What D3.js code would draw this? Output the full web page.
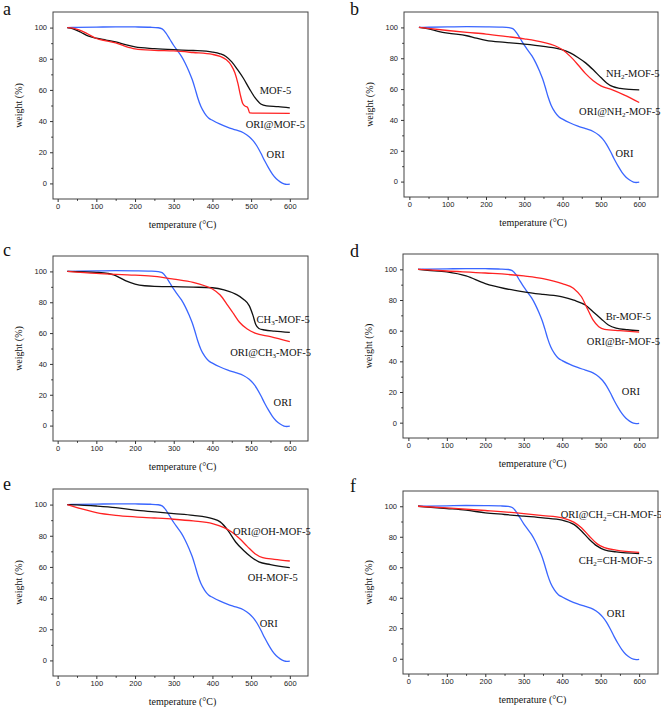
<!DOCTYPE html>
<html>
<head>
<meta charset="utf-8">
<script src="https://cdn.jsdelivr.net/npm/d3@7"></script>
<style>
  html, body { margin: 0; padding: 0; background: #fff; }
  svg { display: block; }
</style>
</head>
<body>
<svg id="chart" width="661" height="709"></svg>
<script>
// ---------------- DATA (temperature °C, weight %) ----------------
const xTicks = [0, 100, 200, 300, 400, 500, 600];
const yTicks = [0, 20, 40, 60, 80, 100];
const xLabel = "temperature (°C)";
const yLabel = "weight (%)";

const ORI = [[25,100],[50,100.1],[100,100.3],[150,100.5],[200,100.4],[240,100.2],[260,99.9],[270,99.2],[280,96.5],[290,92.5],[300,88.5],[310,85],[320,81.5],[330,77],[340,71.5],[348,66.5],[355,61],[362,55],[370,49.5],[380,45],[390,42],[400,40.5],[420,38],[440,36],[460,34.3],[480,32.5],[495,30],[505,27.5],[515,24],[525,19.5],[535,14.5],[545,10],[555,6],[565,3],[575,1],[585,-0.3],[592,-0.6],[600,-0.4]];

const MOF5 = [[25,100],[40,99.2],[60,97],[80,94.5],[100,93.2],[125,92],[150,90.8],[175,89],[200,87.6],[250,86.5],[300,85.8],[350,85.3],[400,84.3],[420,83.2],[435,81.5],[450,78],[465,73],[480,67.5],[495,61],[510,55],[525,51],[540,49.8],[570,49.3],[600,48.5]];
const ORI_MOF5 = [[25,100],[40,99.6],[55,98.5],[75,96.3],[100,93],[125,91.5],[150,90.2],[175,88],[200,86.4],[250,85.4],[300,85],[350,84],[400,82.8],[420,81.5],[435,79.5],[448,76],[458,71],[466,64],[472,57],[478,51.5],[485,49.5],[490,49],[493,47.5],[496,45.3],[520,45.1],[600,45]];

const NH2_MOF5 = [[25,100],[50,99],[75,97.5],[100,96.3],[150,94.6],[175,93],[200,91.6],[250,90.3],[300,89.2],[350,87.7],[400,85.5],[420,83.5],[440,80.5],[460,77],[480,72.5],[500,67.5],[515,64],[530,61.7],[550,60.5],[575,59.8],[600,59.5]];
const ORI_NH2_MOF5 = [[25,100],[100,98],[150,96.8],[200,95.7],[250,94.2],[300,92.6],[350,90.3],[380,88.1],[400,85.5],[420,81.2],[440,75.8],[460,70],[480,65.4],[500,62.1],[530,59.5],[560,56.3],[600,51.3]];

const CH3_MOF5 = [[25,100],[100,99.4],[130,98.7],[145,97.8],[160,96],[175,94],[200,91.8],[225,90.7],[250,90.3],[300,90.1],[350,89.8],[400,89.4],[430,88.1],[460,85.3],[480,82],[495,77.8],[505,71.3],[512,65.5],[520,63],[535,62],[560,61.3],[600,60.5]];
const ORI_CH3_MOF5 = [[25,100],[100,98.7],[200,97.6],[250,96.8],[300,95],[350,92.9],[380,90.7],[400,88.6],[420,84.7],[440,77.8],[455,72.4],[470,67],[490,62.6],[510,60],[550,57.7],[600,54.4]];

const BR_MOF5 = [[25,100],[50,99.4],[100,98.3],[150,95.7],[200,90.7],[250,87.5],[300,85.3],[350,83.6],[400,82.1],[430,79.9],[460,76.7],[480,72.4],[500,68],[520,63.7],[540,61.6],[570,60.6],[600,60]];
const ORI_BR_MOF5 = [[25,100],[100,98.9],[200,97.6],[300,95.7],[350,94],[400,90.7],[430,87.5],[450,82.1],[465,74.5],[480,67],[495,62.6],[510,60.9],[550,60],[600,59]];

const OH_MOF5 = [[25,100],[100,99.1],[150,98.1],[200,96.4],[250,95.3],[300,94.2],[350,93.1],[400,91],[420,88.9],[440,83.5],[460,76],[480,70.7],[500,66.4],[520,63.2],[550,61.5],[600,59.5]];
const ORI_OH_MOF5 = [[25,100],[50,98.1],[75,96.4],[100,94.9],[150,93.1],[200,92.1],[250,91.4],[300,90.6],[350,89.5],[400,87.8],[430,85.2],[450,82.4],[470,78.2],[490,73.2],[510,68.5],[530,66],[560,64.9],[600,63.8]];

const VINYL_MOF5 = [[25,100],[100,98.5],[150,97.4],[200,95.7],[250,94.6],[300,93.5],[350,92.4],[400,90.9],[430,88.1],[450,83.8],[470,78.4],[490,74],[510,71.4],[540,70.1],[600,69]];
const ORI_VINYL_MOF5 = [[25,100],[100,98.9],[200,97.2],[300,95.2],[350,93.9],[400,92.4],[430,89.6],[450,85.9],[470,80.5],[490,75.5],[510,72.9],[540,71.2],[600,69.7]];

// series label text ("_2" marks a subscript) and anchor point in data units [°C, %]
const panelLetters = ["a", "b", "c", "d", "e", "f"];
const mofNames = ["MOF-5", "NH_2-MOF-5", "CH_3-MOF-5", "Br-MOF-5", "OH-MOF-5", "CH_2=CH-MOF-5"];
const oriMofNames = ["ORI@MOF-5", "ORI@NH_2-MOF-5", "ORI@CH_3-MOF-5", "ORI@Br-MOF-5", "ORI@OH-MOF-5", "ORI@CH_2=CH-MOF-5"];
const mofSeries = [MOF5, NH2_MOF5, CH3_MOF5, BR_MOF5, OH_MOF5, VINYL_MOF5];
const oriMofSeries = [ORI_MOF5, ORI_NH2_MOF5, ORI_CH3_MOF5, ORI_BR_MOF5, ORI_OH_MOF5, ORI_VINYL_MOF5];
const mofLabelAt = [[522,57.7],[513,68],[514,66.8],[513,67],[491,50.7],[443,62.3]];
const oriMofLabelAt = [[486,35.8],[443,43.3],[446,45.4],[464,50.7],[453,80.3],[396,92.2]];
const oriLabelAt = [[540,16.5],[538,16],[558,13],[555,18.3],[522,21.2],[516,27.3]];

// ---------------- LAYOUT ----------------
const frames = [
  {x0: 53,  x1: 308, y0: 12,  y1: 199, lx: 3,   ly: 15,  xd: [-12, 647]},
  {x0: 404, x1: 658, y0: 12,  y1: 197, lx: 350, ly: 15,  xd: [-14, 649]},
  {x0: 53,  x1: 308, y0: 256, y1: 441, lx: 3,   ly: 256, xd: [-12, 647]},
  {x0: 403, x1: 658, y0: 254, y1: 438, lx: 350, ly: 257, xd: [-14, 649]},
  {x0: 53,  x1: 308, y0: 489, y1: 676, lx: 3,   ly: 490, xd: [-12, 647]},
  {x0: 403, x1: 658, y0: 491, y1: 674, lx: 350, ly: 492, xd: [-14, 649]}
];

const COL_BLACK = "#111111", COL_RED = "#ff2222", COL_BLUE = "#3a66ff";
const svg = d3.select("#chart");

function addLabel(g, text, x, y) {
  const t = g.append("text").attr("x", x).attr("y", y)
    .attr("font-family", "'Liberation Serif','Times New Roman',serif")
    .attr("font-size", 10.5).attr("fill", "#111");
  const parts = text.split(/_(\d)/);
  parts.forEach((p, i) => {
    if (i % 2 === 1) {
      t.append("tspan").attr("font-size", 7).attr("dy", 2.5).text(p);
    } else if (p.length) {
      const ts = t.append("tspan").text(p);
      if (i > 0) ts.attr("dy", -2.5);
    }
  });
}

frames.forEach((f, i) => {
  const g = svg.append("g");
  const x = d3.scaleLinear().domain(f.xd).range([f.x0, f.x1]);
  const y = d3.scaleLinear().domain([-10, 110]).range([f.y1, f.y0]);

  // frame
  g.append("rect").attr("x", f.x0).attr("y", f.y0)
    .attr("width", f.x1 - f.x0).attr("height", f.y1 - f.y0)
    .attr("fill", "none").attr("stroke", "#444").attr("stroke-width", 1);

  // major axes
  const xa = g.append("g").attr("transform", `translate(0,${f.y1})`)
    .call(d3.axisBottom(x).tickValues(xTicks).tickSize(3).tickPadding(2).tickFormat(d3.format("d")));
  const xm = g.append("g").attr("transform", `translate(0,${f.y1})`)
    .call(d3.axisBottom(x).tickValues(xTicks.slice(0, -1).map(v => v + 50)).tickSize(1.8).tickFormat(""));
  const ya = g.append("g").attr("transform", `translate(${f.x0},0)`)
    .call(d3.axisLeft(y).tickValues(yTicks).tickSize(3).tickPadding(3).tickFormat(d3.format("d")));
  const ym = g.append("g").attr("transform", `translate(${f.x0},0)`)
    .call(d3.axisLeft(y).tickValues(yTicks.slice(0, -1).map(v => v + 10)).tickSize(1.8).tickFormat(""));
  [xa, xm, ya, ym].forEach(a => {
    a.select(".domain").remove();
    a.selectAll("line").attr("stroke", "#333");
    a.selectAll("text").attr("font-family", "'Liberation Sans',Arial,sans-serif")
      .attr("font-size", 7.5).attr("fill", "#222");
  });

  // axis titles
  g.append("text").attr("x", (f.x0 + f.x1) / 2 + 2).attr("y", f.y1 + 29)
    .attr("text-anchor", "middle")
    .attr("font-family", "'Liberation Serif','Times New Roman',serif")
    .attr("font-size", 10).attr("fill", "#111").text(xLabel);
  g.append("text")
    .attr("transform", `translate(${f.x0 - 31},${(f.y0 + f.y1) / 2}) rotate(-90)`)
    .attr("text-anchor", "middle")
    .attr("font-family", "'Liberation Serif','Times New Roman',serif")
    .attr("font-size", 10).attr("fill", "#111").text(yLabel);

  // panel letter
  g.append("text").attr("x", f.lx).attr("y", f.ly)
    .attr("font-family", "'Liberation Serif','Times New Roman',serif")
    .attr("font-size", 18).attr("fill", "#111").text(panelLetters[i]);

  // curves
  const line = d3.line().x(d => x(d[0])).y(d => y(d[1])).curve(d3.curveMonotoneX);
  [[ORI, COL_BLUE], [mofSeries[i], COL_BLACK], [oriMofSeries[i], COL_RED]].forEach(([data, c]) => {
    g.append("path").datum(data).attr("d", line)
      .attr("fill", "none").attr("stroke", c).attr("stroke-width", 1.3)
      .attr("stroke-linejoin", "round");
  });

  // series labels
  addLabel(g, mofNames[i], x(mofLabelAt[i][0]), y(mofLabelAt[i][1]));
  addLabel(g, oriMofNames[i], x(oriMofLabelAt[i][0]), y(oriMofLabelAt[i][1]));
  addLabel(g, "ORI", x(oriLabelAt[i][0]), y(oriLabelAt[i][1]));
});
</script>
</body>
</html>
